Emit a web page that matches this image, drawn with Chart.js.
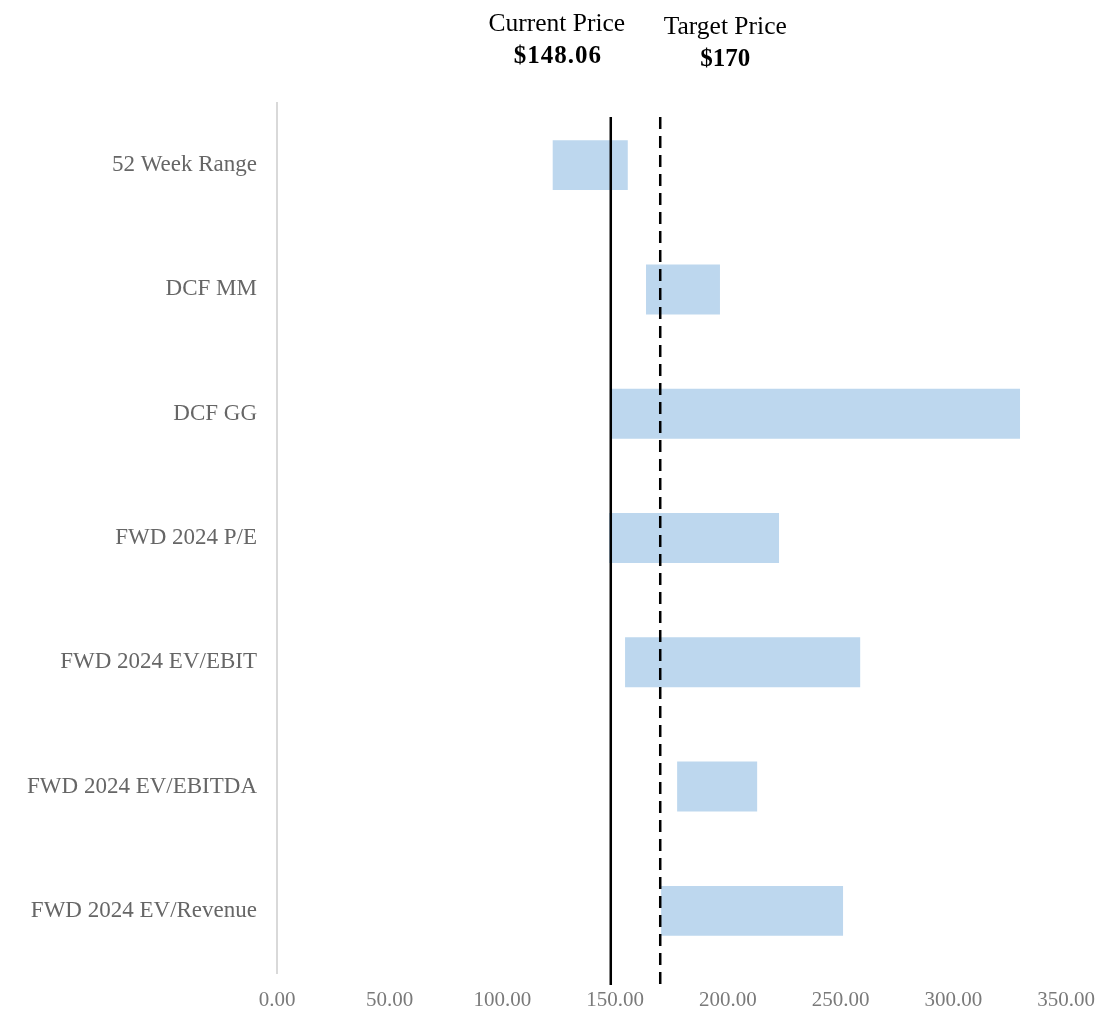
<!DOCTYPE html>
<html>
<head>
<meta charset="utf-8">
<title>Valuation Range</title>
<script src="https://cdn.jsdelivr.net/npm/chart.js@4/dist/chart.umd.min.js"></script>
<style>
  html, body { margin: 0; padding: 0; background: #ffffff; }
  #wrap { width: 1104px; height: 1012px; position: relative; }
</style>
</head>
<body>
<div id="wrap"><canvas id="chart"></canvas></div>
<script>
// Valuation methods and their low / high price estimates
const categories = [
  "52 Week Range",
  "DCF MM",
  "DCF GG",
  "FWD 2024 P/E",
  "FWD 2024 EV/EBIT",
  "FWD 2024 EV/EBITDA",
  "FWD 2024 EV/Revenue"
];
const lows  = [122.3, 163.7, 148.2, 147.3, 154.4, 177.5, 170.4];
const highs = [155.6, 196.5, 329.6, 222.7, 258.7, 213.0, 251.1];

// Reference prices
const currentPrice = 148.06;
const targetPrice = 170;
const currentLabel = ["Current Price", "$148.06"];
const targetLabel = ["Target Price", "$170"];

// Axis ticks
const xTicks = [0, 50, 100, 150, 200, 250, 300, 350];

const ranges = lows.map((lo, i) => [lo, highs[i]]);

const serif = "'Liberation Serif', 'Times New Roman', serif";

// Draws the current / target price markers and their captions
const priceMarkers = {
  id: "priceMarkers",
  afterDatasetsDraw(chart) {
    const { ctx, chartArea, scales } = chart;
    const top = chartArea.top + 14;
    const bottom = chartArea.bottom + 12;
    const xc = scales.x.getPixelForValue(currentPrice);
    const xt = scales.x.getPixelForValue(targetPrice);
    ctx.save();
    ctx.strokeStyle = "#000000";
    ctx.lineWidth = 2.5;
    ctx.beginPath();
    ctx.moveTo(xc, top);
    ctx.lineTo(xc, bottom);
    ctx.stroke();
    ctx.setLineDash([12, 7]);
    ctx.beginPath();
    ctx.moveTo(xt, top);
    ctx.lineTo(xt, bottom);
    ctx.stroke();
    ctx.setLineDash([]);

    ctx.fillStyle = "#000000";
    ctx.textAlign = "center";
    ctx.textBaseline = "alphabetic";
    const cx = xc - 54;
    const tx = xt + 65;
    ctx.font = "25.5px " + serif;
    ctx.fillText(currentLabel[0], cx, 31);
    ctx.fillText(targetLabel[0], tx, 34);
    ctx.font = "bold 25px " + serif;
    ctx.letterSpacing = "1px";
    ctx.fillText(currentLabel[1], cx + 1, 63);
    ctx.letterSpacing = "0px";
    ctx.fillText(targetLabel[1], tx, 66);
    ctx.restore();
  }
};

new Chart(document.getElementById("chart"), {
  type: "bar",
  data: {
    labels: categories,
    datasets: [{
      data: ranges,
      backgroundColor: "#bdd7ee",
      borderWidth: 0,
      borderSkipped: false,
      barPercentage: 0.402,
      categoryPercentage: 1.0
    }]
  },
  options: {
    indexAxis: "y",
    responsive: true,
    maintainAspectRatio: false,
    animation: false,
    layout: { padding: { top: 103, right: 38, left: 0, bottom: 0 } },
    plugins: {
      legend: { display: false },
      tooltip: { enabled: false }
    },
    scales: {
      x: {
        type: "linear",
        min: xTicks[0],
        max: xTicks[xTicks.length - 1],
        afterBuildTicks(scale) {
          scale.ticks = xTicks.map(v => ({ value: v }));
        },
        afterFit(scale) {
          scale.height = 39;
          scale.paddingLeft = 0;
          scale.paddingRight = 0;
        },
        grid: { display: false, drawTicks: false },
        border: { display: false },
        ticks: {
          padding: 15,
          color: "#7a7a7a",
          font: { family: serif, size: 21 },
          maxRotation: 0,
          callback: v => Number(v).toFixed(2)
        }
      },
      y: {
        afterFit(scale) { scale.width = 277; },
        grid: { display: false, drawTicks: false },
        border: { display: true, color: "#d9d9d9", width: 2 },
        ticks: {
          padding: 20,
          color: "#666666",
          font: { family: serif, size: 23 }
        }
      }
    }
  },
  plugins: [priceMarkers]
});
</script>
</body>
</html>
